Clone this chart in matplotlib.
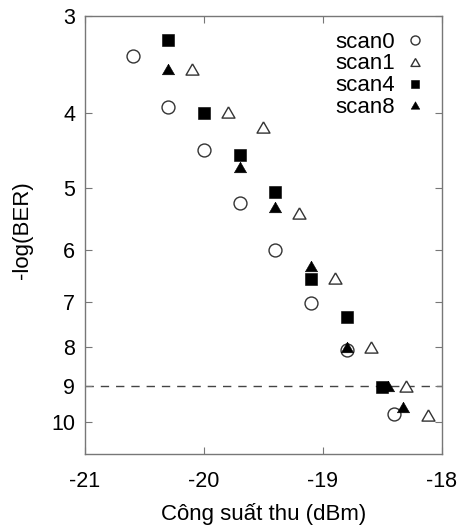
import matplotlib
matplotlib.use("Agg")
import matplotlib.pyplot as plt
from matplotlib.ticker import FixedLocator, FixedFormatter, NullLocator

plt.rcParams['font.family'] = ['Liberation Sans', 'DejaVu Sans']
plt.rcParams['axes.unicode_minus'] = False

scan0_x = [-20.6, -20.3, -20.0, -19.7, -19.4, -19.1, -18.8, -18.4]
scan0_y = [3.38, 3.93, 4.47, 5.23, 6.01, 7.03, 8.09, 9.78]
scan1_x = [-20.1, -19.8, -19.5, -19.2, -18.9, -18.6, -18.3, -18.12]
scan1_y = [3.51, 3.99, 4.17, 5.38, 6.52, 8.01, 9.0, 9.80]
scan4_x = [-20.3, -20.0, -19.7, -19.4, -19.1, -18.8, -18.5]
scan4_y = [3.22, 4.0, 4.53, 5.06, 6.54, 7.33, 9.02]
scan8_x = [-20.3, -19.7, -19.4, -19.1, -18.8, -18.45, -18.33]
scan8_y = [3.51, 4.69, 5.29, 6.29, 8.01, 9.0, 9.58]

y_ticks = [3, 4, 5, 6, 7, 8, 9, 10]
x_ticks = [-21, -20, -19, -18]
threshold = 9

fig = plt.figure(figsize=(4.63, 5.26), dpi=100)
ax = fig.add_axes([0.1836, 0.1369, 0.9546 - 0.1836, 0.9696 - 0.1369])

tri = [(0, 0.75), (-0.866, -0.75), (0.866, -0.75), (0, 0.75)]
ec = '#333333'
ax.axhline(threshold, color='#444444', lw=1.0, ls=(0, (6, 5)), zorder=1)
ax.plot(scan0_x, scan0_y, 'o', ls='none', ms=9.3, mfc='white', mec=ec, mew=1.0, label='scan0', zorder=3)
ax.plot(scan1_x, scan1_y, marker=tri, ls='none', ms=9.3, mfc='white', mec=ec, mew=1.0, label='scan1', zorder=3)
ax.plot(scan4_x, scan4_y, 's', ls='none', ms=8.8, mfc='black', mec='black', mew=0.4, label='scan4', zorder=4)
ax.plot(scan8_x, scan8_y, marker=tri, ls='none', ms=8.8, mfc='black', mec='black', mew=0.4, label='scan8', zorder=5)

ax.set_yscale('log')
ax.set_ylim(11, 3)
ax.set_xlim(-21, -18)
ax.yaxis.set_major_locator(FixedLocator(y_ticks))
ax.yaxis.set_major_formatter(FixedFormatter([str(t) for t in y_ticks]))
ax.yaxis.set_minor_locator(NullLocator())
ax.xaxis.set_major_locator(FixedLocator(x_ticks))
ax.xaxis.set_major_formatter(FixedFormatter([str(t) for t in x_ticks]))
ax.xaxis.set_minor_locator(NullLocator())

for s in ax.spines.values():
    s.set_color('#777777')
    s.set_linewidth(1.0)
ax.tick_params(direction='in', length=5, width=0.8, color='#777777',
               top=True, right=True, labelsize=15.5, labelcolor='black')
ax.tick_params(axis='y', pad=7)
ax.tick_params(axis='x', pad=12)

ax.set_xlabel('Công suất thu (dBm)', fontsize=16, labelpad=8)
ax.set_ylabel('-log(BER)', fontsize=16)
ax.yaxis.set_label_coords(-0.146, 0.511)

leg = ax.legend(loc='upper right', frameon=False, markerfirst=False, fontsize=16,
                markerscale=0.7, handlelength=1.0, handletextpad=0.4,
                labelspacing=0.04, borderaxespad=0.3, borderpad=0.4)

fig.savefig('out.png', dpi=100)
